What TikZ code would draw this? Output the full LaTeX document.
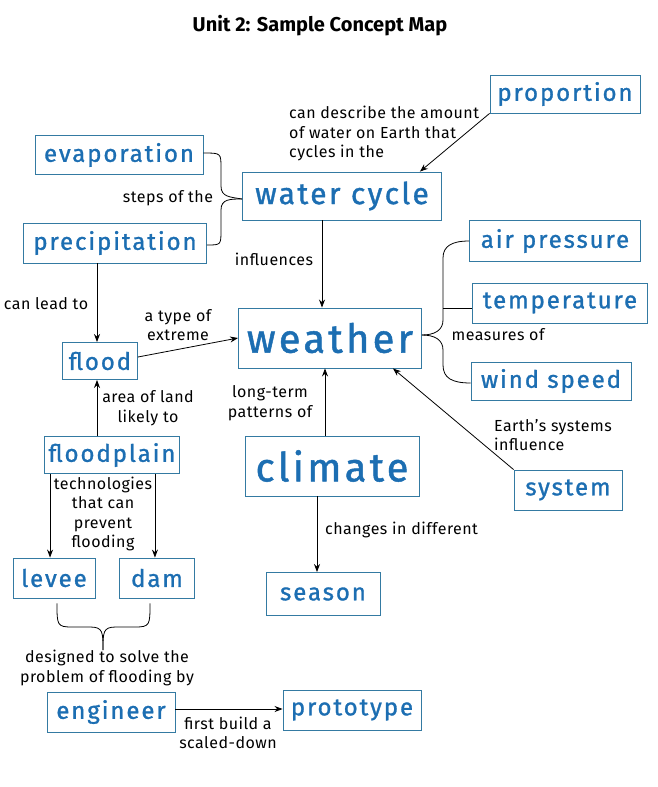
\documentclass[tikz,border=0pt]{standalone}
\usepackage{fontspec}
\setmainfont{Fira Sans}
\newfontfamily\conceptfont[LetterSpace=8, FakeBold=1.2]{Fira Sans}
\newfontfamily\linkfont[LetterSpace=3]{Fira Sans}
\usepackage{xcolor}
\usetikzlibrary{arrows.meta, positioning}
\definecolor{conceptblue}{RGB}{28,110,178}
\definecolor{boxline}{RGB}{52,122,162}
\newcommand{\bigtxt}{\conceptfont\fontsize{24}{26}\selectfont}
\newcommand{\hugetxt}{\conceptfont\fontsize{40}{42}\selectfont}
\newcommand{\labtxt}{\linkfont\fontsize{16}{19.5}\selectfont}

\begin{document}
\begin{tikzpicture}[
        x=1pt, y=-1pt,
        box/.style={rectangle, draw=boxline, line width=0.9pt, text=conceptblue, inner sep=0pt, font=\bigtxt},
        lab/.style={font=\labtxt, inner sep=0pt, align=center},
        arrow/.style={-{Stealth[length=8pt, width=6pt]}, line width=0.8pt},
        link/.style={line width=0.8pt}
    ]
        \useasboundingbox (0,0) rectangle (658,787);
        \node[font=\fontsize{20}{22}\selectfont\bfseries] (title) at (320,26) {Unit 2: Sample Concept Map};

        % concepts
        \node[box, minimum width=150pt, minimum height=38pt] (proportion) at (565,94) {proportion};
        \node[box, minimum width=168pt, minimum height=39pt] (evap) at (119,155) {evaporation};
        \node[box, minimum width=199pt, minimum height=48pt, font=\conceptfont\fontsize{30}{32}\selectfont] (wcycle) at (342,196) {water cycle};
        \node[box, minimum width=183pt, minimum height=40pt] (precip) at (115,243) {precipitation};
        \node[box, minimum width=171pt, minimum height=41pt] (airp) at (555,241) {air pressure};
        \node[box, minimum width=175pt, minimum height=40pt] (temp) at (560,303) {temperature};
        \node[box, minimum width=160pt, minimum height=38pt] (wind) at (551,381) {wind speed};
        \node[box, minimum width=183pt, minimum height=60pt, font=\hugetxt] (weather) at (330,338) {weather};
        \node[box, minimum width=75pt, minimum height=37pt] (flood) at (100,361) {flood};
        \node[box, minimum width=135pt, minimum height=37pt] (fplain) at (112,455) {floodplain};
        \node[box, minimum width=174pt, minimum height=60pt, font=\hugetxt] (climate) at (332,466) {climate};
        \node[box, minimum width=108pt, minimum height=40pt] (system) at (568,490) {system};
        \node[box, minimum width=82pt, minimum height=40pt] (levee) at (54,578) {levee};
        \node[box, minimum width=75pt, minimum height=40pt] (dam) at (157,578) {dam};
        \node[box, minimum width=114pt, minimum height=43pt] (season) at (323,594) {season};
        \node[box, minimum width=128pt, minimum height=40pt] (engineer) at (111,712) {engineer};
        \node[box, minimum width=138pt, minimum height=40pt] (prototype) at (352,710) {prototype};

        % linking phrases
        \node[lab, align=left, anchor=north west] (l1) at (289,106) {can describe the amount\\of water on Earth that\\cycles in the};
        \node[lab] (l2) at (168,198) {steps of the};
        \node[lab] (l3) at (274,259) {influences};
        \node[lab] (l4) at (46,304) {can lead to};
        \node[lab] (l5) at (178,325) {a type of\\extreme};
        \node[lab] (l6) at (498,335) {measures of};
        \node[lab] (l7) at (270,403) {long-term\\patterns of};
        \node[lab, align=left, anchor=west] (l8) at (494,435) {Earth’s systems\\influence};
        \node[lab] (l9) at (148,408) {area of land\\likely to};
        \node[lab] (l10) at (103,514) {technologies\\that can\\prevent\\flooding};
        \node[lab, anchor=west] (l11) at (325,530) {changes in different};
        \node[lab] (l12) at (107,668) {designed to solve the\\problem of flooding by};
        \node[lab] (l13) at (228,733) {first build a\\scaled-down};

        % arrows
        \draw[arrow] (proportion.south west) -- ([xshift=-22pt]wcycle.north east);
        \draw[arrow] ([xshift=-20pt]wcycle.south) -- ([xshift=-20pt]wcycle.south |- weather.north);
        \draw[arrow] ([xshift=-18pt]precip.south) -- ([xshift=-18pt]precip.south |- flood.north);
        \draw[arrow] ([yshift=4pt]flood.east) -- (weather.west);
        \draw[arrow] ([xshift=-7pt]climate.north) -- ([xshift=-7pt]climate.north |- weather.south);
        \draw[arrow] (system.north west) -- ([xshift=-29pt]weather.south east);
        \draw[arrow] ([xshift=-15pt]fplain.north) -- ([xshift=-15pt]fplain.north |- flood.south);
        \draw[arrow] ([xshift=6pt]fplain.south west) -- ([xshift=6pt]fplain.south west |- levee.north);
        \draw[arrow] ([xshift=-25pt]fplain.south east) -- ([xshift=-25pt]fplain.south east |- dam.north);
        \draw[arrow] ([xshift=-15pt]climate.south) -- ([xshift=-15pt]climate.south |- season.north);
        \draw[arrow] ([yshift=3pt]engineer.east) -- ([yshift=3pt]engineer.east -| prototype.west);

        % braces
        \draw[link] ([yshift=2pt]evap.east) .. controls (221,153) and (221,153) .. (221,168) -- (221,186)
            .. controls (221,197) and (230,197) .. ([yshift=-3pt]wcycle.west);
        \draw[link] ([yshift=-2pt]precip.east) .. controls (221,245) and (221,245) .. (221,230) -- (221,210)
            .. controls (221,199) and (230,199) .. ([yshift=-3pt]wcycle.west);
        \draw[link] ([yshift=3pt]weather.east) .. controls (435,335) and (443,330) .. (443,320) -- (443,258)
            .. controls (443,246) and (452,241) .. (airp.west);
        \draw[link] ([yshift=3pt]weather.east) .. controls (435,335) and (443,340) .. (443,350) -- (443,365)
            .. controls (443,378) and (452,383) .. ([yshift=-2pt]wind.west);
        \draw[link] (443,308) -- (443,308 -| temp.west);
        \draw[link] ([xshift=3pt, yshift=-5pt]levee.south) .. controls (57,625) and (57,627) .. (72,627) -- (90,627)
            .. controls (103,627) and (103,632) .. (103,650);
        \draw[link] ([xshift=-7pt, yshift=-5pt]dam.south) .. controls (150,625) and (150,627) .. (135,627) -- (116,627)
            .. controls (103,627) and (103,632) .. (103,650);
\end{tikzpicture}
\end{document}
